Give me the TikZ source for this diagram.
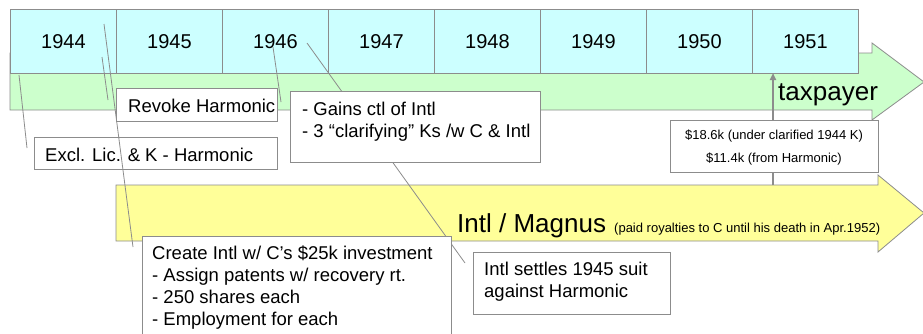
\documentclass[tikz,border=0pt]{standalone}
\usepackage{fontspec}
\setmainfont{Liberation Sans}
\usetikzlibrary{arrows.meta}
\definecolor{bord}{HTML}{8C8C8C}
\definecolor{yrfill}{HTML}{CCFFFF}
\definecolor{grfill}{HTML}{CCFFCC}
\definecolor{ylfill}{HTML}{FFFF99}
\begin{document}
\begin{tikzpicture}[x=1pt,y=-1pt,
  yearbox/.style={draw=bord, line width=0.8pt, fill=yrfill, minimum width=106pt, minimum height=64pt, inner sep=0pt, anchor=north west, font=\fontsize{20}{24}\selectfont},
  notebox/.style={draw=bord, line width=0.8pt, fill=white, inner sep=0pt, anchor=north west},
  txt/.style={inner sep=0pt, anchor=base west, font=\fontsize{18.5}{22}\selectfont},
  smalltxt/.style={inner sep=0pt, anchor=base, font=\fontsize{13}{15}\selectfont},
  conn/.style={draw=bord, line width=0.8pt},
  band/.style={draw=bord, line width=0.8pt}]
\useasboundingbox (0,0) rectangle (923,333);
\begin{scope}
\clip (0,0) rectangle (923,333);
% green taxpayer arrow
\draw[band, fill=grfill] (10,53) -- (872,53) -- (872,43) -- (924,82) -- (872,120) -- (872,110) -- (10,110) -- cycle;
% year boxes
\node[yearbox] (y44) at (10,9) {1944};
\node[yearbox] (y45) at (116,9) {1945};
\node[yearbox] (y46) at (222,9) {1946};
\node[yearbox] (y47) at (328,9) {1947};
\node[yearbox] (y48) at (434,9) {1948};
\node[yearbox] (y49) at (540,9) {1949};
\node[yearbox] (y50) at (646,9) {1950};
\node[yearbox] (y51) at (752,9) {1951};
\node[inner sep=0pt, anchor=base west, font=\fontsize{26}{30}\selectfont] (tax) at (778,100) {taxpayer};
% yellow Intl / Magnus arrow
\draw[band, fill=ylfill] (116,185) -- (878,185) -- (878,175) -- (924,213) -- (878,252) -- (878,241) -- (116,241) -- cycle;
\node[inner sep=0pt, anchor=base west, font=\fontsize{26}{30}\selectfont] (intl) at (457,232) {Intl / Magnus};
\node[inner sep=0pt, anchor=base west, font=\fontsize{13}{15}\selectfont] (paid) at (614,232) {(paid royalties to C until his death in Apr.1952)};
% payment arrow to 1951
\coordinate (payfoot) at (773,185);
\coordinate (payhead) at (773,73);
\draw[draw=bord, line width=2pt, -{Triangle[length=7pt,width=6pt]}] (payfoot) -- (payhead);
% connector hidden behind the Gains box
\coordinate (c46a) at (307,43);
\coordinate (settleend) at (465,263);
\draw[conn] (c46a) -- (settleend);
% note boxes
\node[notebox, minimum width=250pt, minimum height=71pt] (gains) at (290,91) {};
\node[txt] (gains1) at (302,115) {- Gains ctl of Intl};
\node[txt] (gains2) at (302,137) {- 3 “clarifying” Ks /w C \& Intl};
\node[notebox, minimum width=208pt, minimum height=52pt] (pay) at (670,120) {};
\node[smalltxt] (pay1) at (774,139) {\$18.6k (under clarified 1944 K)};
\node[smalltxt] (pay2) at (774,162) {\$11.4k (from Harmonic)};
\node[notebox, minimum width=161pt, minimum height=33pt] (revoke) at (116,88) {};
\node[txt] (revoke1) at (128,112) {Revoke Harmonic};
\node[notebox, minimum width=243pt, minimum height=32pt] (excl) at (34,137) {};
\node[txt] (excl1) at (45,161) {Excl. Lic. \& K - Harmonic};
\node[notebox, minimum width=197pt, minimum height=62pt] (settle) at (473,252) {};
\node[txt] (settle1) at (484,275) {Intl settles 1945 suit};
\node[txt] (settle2) at (484,297) {against Harmonic};
\node[notebox, minimum width=309pt, minimum height=110pt] (create) at (142,236) {};
\node[txt] (create1) at (152,259) {Create Intl w/ C’s \$25k investment};
\node[txt] (create2) at (152,281) {- Assign patents w/ recovery rt.};
\node[txt] (create3) at (152,303) {- 250 shares each};
\node[txt] (create4) at (152,325) {- Employment for each};
% remaining connectors
\coordinate (c44a) at (19,75);
\coordinate (exclend) at (27,148);
\draw[conn] (c44a) -- (exclend);
\coordinate (c44b) at (104,24);
\coordinate (createend) at (133,247);
\draw[conn] (c44b) -- (createend);
\coordinate (c44c) at (102,57);
\coordinate (revokeend) at (108,100);
\draw[conn] (c44c) -- (revokeend);
\coordinate (c46b) at (273,47);
\coordinate (gainsend) at (281,102);
\draw[conn] (c46b) -- (gainsend);
\end{scope}
\end{tikzpicture}
\end{document}
